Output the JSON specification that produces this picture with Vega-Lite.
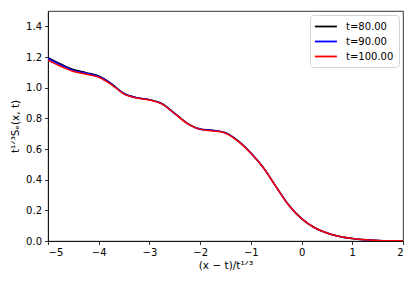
{
  "$schema": "https://vega.github.io/schema/vega-lite/v6.json",
  "width": 355,
  "height": 230,
  "autosize": {"type": "none"},
  "padding": {"left": 48, "top": 11, "right": 12, "bottom": 43},
  "background": "white",
  "config": {
    "font": "DejaVu Sans",
    "view": {"stroke": "black", "strokeWidth": 0.8},
    "axis": {
      "grid": false,
      "domainColor": "black",
      "domainWidth": 0.8,
      "tickColor": "black",
      "tickWidth": 0.8,
      "tickSize": 3.5,
      "labelFont": "DejaVu Sans",
      "labelFontSize": 10,
      "labelColor": "black",
      "labelPadding": 3,
      "titleFont": "DejaVu Sans",
      "titleFontSize": 10.5,
      "titleFontWeight": "normal",
      "titleColor": "black"
    },
    "legend": {
      "labelFont": "DejaVu Sans",
      "labelFontSize": 10,
      "labelColor": "black"
    }
  },
  "datasets": {
    "d80": [
      {"x": -5, "y": 1.196, "t": "t=80.00"}, {"x": -4.75, "y": 1.155, "t": "t=80.00"}, {"x": -4.5, "y": 1.118, "t": "t=80.00"}, {"x": -4.25, "y": 1.098, "t": "t=80.00"},
      {"x": -4, "y": 1.076, "t": "t=80.00"}, {"x": -3.75, "y": 1.026, "t": "t=80.00"}, {"x": -3.5, "y": 0.962, "t": "t=80.00"}, {"x": -3.25, "y": 0.935, "t": "t=80.00"},
      {"x": -3, "y": 0.922, "t": "t=80.00"}, {"x": -2.75, "y": 0.895, "t": "t=80.00"}, {"x": -2.5, "y": 0.832, "t": "t=80.00"}, {"x": -2.25, "y": 0.767, "t": "t=80.00"},
      {"x": -2, "y": 0.730, "t": "t=80.00"}, {"x": -1.75, "y": 0.722, "t": "t=80.00"}, {"x": -1.5, "y": 0.707, "t": "t=80.00"}, {"x": -1.25, "y": 0.653, "t": "t=80.00"},
      {"x": -1, "y": 0.574, "t": "t=80.00"}, {"x": -0.75, "y": 0.477, "t": "t=80.00"}, {"x": -0.5, "y": 0.353, "t": "t=80.00"}, {"x": -0.25, "y": 0.233, "t": "t=80.00"},
      {"x": 0, "y": 0.146, "t": "t=80.00"}, {"x": 0.25, "y": 0.088, "t": "t=80.00"}, {"x": 0.5, "y": 0.052, "t": "t=80.00"}, {"x": 0.75, "y": 0.030, "t": "t=80.00"},
      {"x": 1, "y": 0.016, "t": "t=80.00"}, {"x": 1.25, "y": 0.008, "t": "t=80.00"}, {"x": 1.5, "y": 0.004, "t": "t=80.00"}, {"x": 1.75, "y": 0.002, "t": "t=80.00"},
      {"x": 2, "y": 0.001, "t": "t=80.00"}
    ],
    "d90": [
      {"x": -5, "y": 1.190, "t": "t=90.00"}, {"x": -4.75, "y": 1.149, "t": "t=90.00"}, {"x": -4.5, "y": 1.113, "t": "t=90.00"}, {"x": -4.25, "y": 1.094, "t": "t=90.00"},
      {"x": -4, "y": 1.073, "t": "t=90.00"}, {"x": -3.75, "y": 1.024, "t": "t=90.00"}, {"x": -3.5, "y": 0.961, "t": "t=90.00"}, {"x": -3.25, "y": 0.934, "t": "t=90.00"},
      {"x": -3, "y": 0.921, "t": "t=90.00"}, {"x": -2.75, "y": 0.894, "t": "t=90.00"}, {"x": -2.5, "y": 0.831, "t": "t=90.00"}, {"x": -2.25, "y": 0.766, "t": "t=90.00"},
      {"x": -2, "y": 0.729, "t": "t=90.00"}, {"x": -1.75, "y": 0.721, "t": "t=90.00"}, {"x": -1.5, "y": 0.706, "t": "t=90.00"}, {"x": -1.25, "y": 0.652, "t": "t=90.00"},
      {"x": -1, "y": 0.573, "t": "t=90.00"}, {"x": -0.75, "y": 0.477, "t": "t=90.00"}, {"x": -0.5, "y": 0.353, "t": "t=90.00"}, {"x": -0.25, "y": 0.233, "t": "t=90.00"},
      {"x": 0, "y": 0.146, "t": "t=90.00"}, {"x": 0.25, "y": 0.088, "t": "t=90.00"}, {"x": 0.5, "y": 0.052, "t": "t=90.00"}, {"x": 0.75, "y": 0.030, "t": "t=90.00"},
      {"x": 1, "y": 0.016, "t": "t=90.00"}, {"x": 1.25, "y": 0.008, "t": "t=90.00"}, {"x": 1.5, "y": 0.004, "t": "t=90.00"}, {"x": 1.75, "y": 0.002, "t": "t=90.00"},
      {"x": 2, "y": 0.001, "t": "t=90.00"}
    ],
    "d100": [
      {"x": -5, "y": 1.180, "t": "t=100.00"}, {"x": -4.75, "y": 1.140, "t": "t=100.00"}, {"x": -4.5, "y": 1.105, "t": "t=100.00"}, {"x": -4.25, "y": 1.088, "t": "t=100.00"},
      {"x": -4, "y": 1.068, "t": "t=100.00"}, {"x": -3.75, "y": 1.020, "t": "t=100.00"}, {"x": -3.5, "y": 0.958, "t": "t=100.00"}, {"x": -3.25, "y": 0.932, "t": "t=100.00"},
      {"x": -3, "y": 0.920, "t": "t=100.00"}, {"x": -2.75, "y": 0.893, "t": "t=100.00"}, {"x": -2.5, "y": 0.830, "t": "t=100.00"}, {"x": -2.25, "y": 0.765, "t": "t=100.00"},
      {"x": -2, "y": 0.728, "t": "t=100.00"}, {"x": -1.75, "y": 0.718, "t": "t=100.00"}, {"x": -1.5, "y": 0.703, "t": "t=100.00"}, {"x": -1.25, "y": 0.650, "t": "t=100.00"},
      {"x": -1, "y": 0.572, "t": "t=100.00"}, {"x": -0.75, "y": 0.476, "t": "t=100.00"}, {"x": -0.5, "y": 0.352, "t": "t=100.00"}, {"x": -0.25, "y": 0.232, "t": "t=100.00"},
      {"x": 0, "y": 0.146, "t": "t=100.00"}, {"x": 0.25, "y": 0.088, "t": "t=100.00"}, {"x": 0.5, "y": 0.052, "t": "t=100.00"}, {"x": 0.75, "y": 0.030, "t": "t=100.00"},
      {"x": 1, "y": 0.016, "t": "t=100.00"}, {"x": 1.25, "y": 0.008, "t": "t=100.00"}, {"x": 1.5, "y": 0.004, "t": "t=100.00"}, {"x": 1.75, "y": 0.002, "t": "t=100.00"},
      {"x": 2, "y": 0.001, "t": "t=100.00"}
    ]
  },
  "encoding": {
    "x": {
      "field": "x", "type": "quantitative",
      "scale": {"domain": [-5, 2], "nice": false, "zero": false},
      "axis": {"values": [-5, -4, -3, -2, -1, 0, 1, 2], "format": "d", "title": "(x − t)/t¹ᐟ³", "titlePadding": 3}
    },
    "y": {
      "field": "y", "type": "quantitative",
      "scale": {"domain": [0, 1.5], "nice": false},
      "axis": {"values": [0, 0.2, 0.4, 0.6, 0.8, 1.0, 1.2, 1.4], "format": ".1f", "title": "t¹ᐟ³Sₑ(x, t)", "titlePadding": 5}
    },
    "color": {
      "field": "t", "type": "nominal",
      "scale": {"domain": ["t=80.00", "t=90.00", "t=100.00"], "range": ["black", "blue", "red"]},
      "legend": {
        "title": null,
        "orient": "none",
        "legendX": 262,
        "legendY": 4,
        "symbolType": "M-1.2,0H2.8",
        "symbolSize": 121,
        "symbolStrokeWidth": 1.8,
        "labelOffset": 18,
        "rowPadding": 3,
        "padding": 5,
        "strokeColor": "#d5d5d5",
        "fillColor": "white",
        "cornerRadius": 3
      }
    }
  },
  "layer": [
    {"data": {"name": "d80"}, "mark": {"type": "line", "strokeWidth": 1.5, "interpolate": "monotone", "clip": true}},
    {"data": {"name": "d90"}, "mark": {"type": "line", "strokeWidth": 1.5, "interpolate": "monotone", "clip": true}},
    {"data": {"name": "d100"}, "mark": {"type": "line", "strokeWidth": 1.5, "interpolate": "monotone", "clip": true}}
  ]
}
